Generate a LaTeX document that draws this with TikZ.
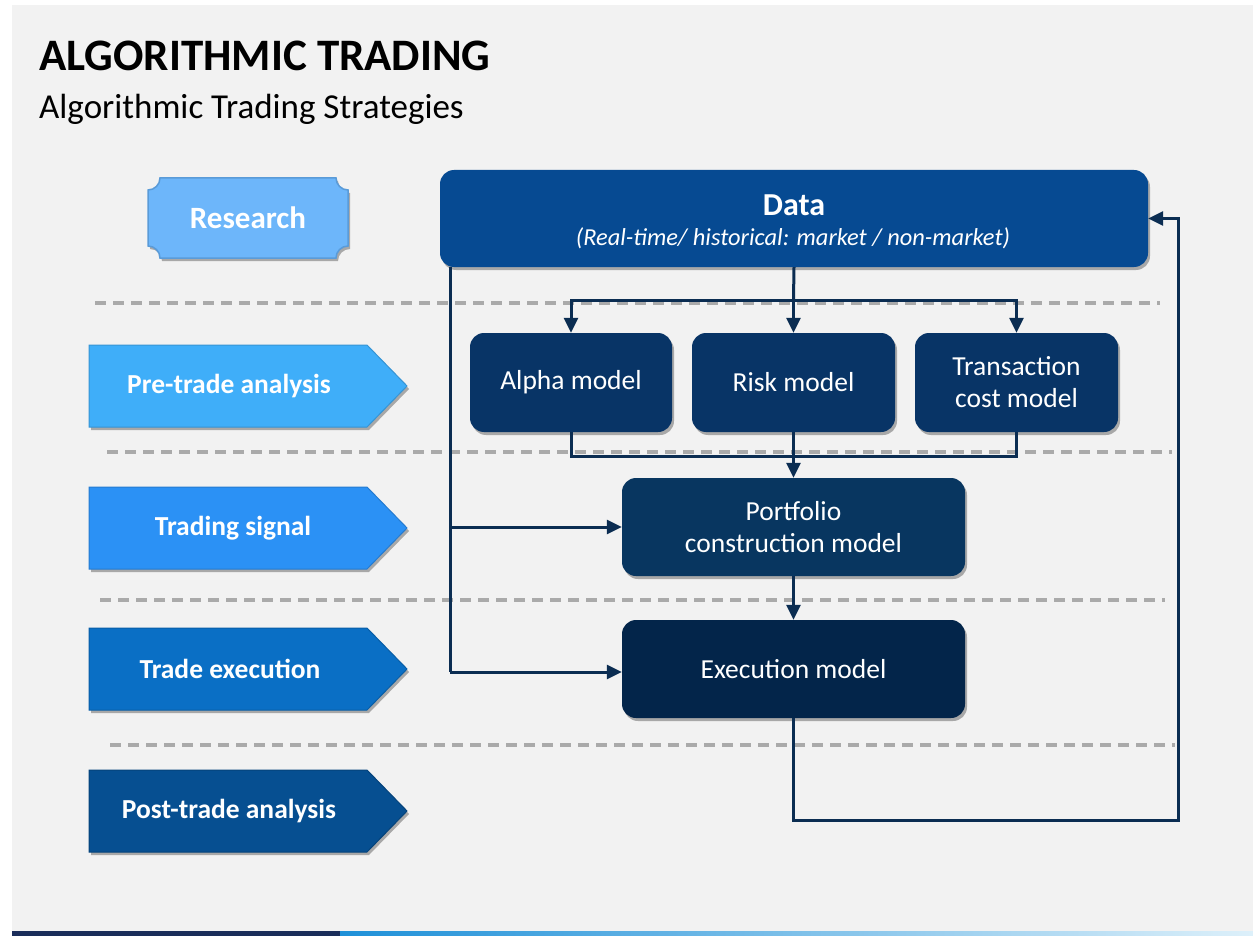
\documentclass[tikz,border=0pt]{standalone}
\usepackage{fontspec}
\setmainfont{Carlito}
\usetikzlibrary{arrows.meta,shadows,calc}

\definecolor{pagebg}{HTML}{F2F2F2}
\definecolor{wire}{HTML}{0B2D52}
\definecolor{dashgray}{HTML}{AAAAAA}
\definecolor{researchfill}{HTML}{6DB6FA}
\definecolor{researchline}{HTML}{5A9BD8}
\definecolor{preFill}{HTML}{3FAEF9}
\definecolor{sigFill}{HTML}{2B91F5}
\definecolor{exeFill}{HTML}{0A6FC5}
\definecolor{postFill}{HTML}{064F91}
\definecolor{dataFill}{HTML}{064A92}
\definecolor{modelFill}{HTML}{083466}
\definecolor{portFill}{HTML}{083660}
\definecolor{execFill}{HTML}{03254A}
\definecolor{barNavy}{HTML}{1A2D5A}
\definecolor{barBlue}{HTML}{1E90D8}
\definecolor{barLight}{HTML}{DDF0FA}

\newcommand{\fsz}[2]{\fontsize{#1}{#2}\selectfont}

\tikzset{
  softshadow/.style={drop shadow={shadow xshift=2pt,shadow yshift=-3pt,opacity=0.3,fill=black}},
  modelbox/.style={rectangle,rounded corners=14pt,text=white,align=center,inner sep=0pt,
    font=\fsz{27.5}{32},softshadow},
  chevlabel/.style={text=white,font=\bfseries\fsz{27.5}{32}},
  conn/.style={draw=wire,line width=3pt},
  arr/.style={-{Triangle[length=15pt,width=14pt]}},
  sepline/.style={draw=dashgray,line width=3.4pt,dash pattern=on 11pt off 7pt},
}

\begin{document}
\begin{tikzpicture}[x=1pt,y=-1pt]
\useasboundingbox (0,0) rectangle (1253,936);
\fill[white] (0,0) rectangle (1253,936);
\fill[pagebg] (12,5) rectangle (1253,932);

% bottom accent bar
\fill[barNavy] (12,931) rectangle (340,936);
\shade[left color=barBlue,right color=barLight] (340,931) rectangle (1253,936);

% heading
\node[anchor=base west,inner sep=0,font=\bfseries\fsz{45}{52}] (title) at (39,71) {ALGORITHMIC TRADING};
\node[anchor=base west,inner sep=0,font=\fsz{35}{40}] (subtitle) at (39,119) {Algorithmic Trading Strategies};

% stage separators
\draw[sepline] (95,303) -- (1160,303);
\draw[sepline] (107,452) -- (1172,452);
\draw[sepline] (100,600) -- (1165,600);
\draw[sepline] (110,745) -- (1175,745);

% Research plaque with concave corners
\path[fill=researchfill,draw=researchline,line width=1.5pt,softshadow]
  (160,178) -- (336,178)
  .. controls (336,184.6) and (341.4,190) .. (348,190) -- (348,246)
  .. controls (341.4,246) and (336,251.4) .. (336,258) -- (160,258)
  .. controls (160,251.4) and (154.6,246) .. (148,246) -- (148,190)
  .. controls (154.6,190) and (160,184.6) .. (160,178) -- cycle;
\node[text=white,font=\bfseries\fsz{31}{36}] (research) at (248,218) {Research};

% stage chevrons
\path[fill=preFill,draw=preFill!85!black,line width=1pt,softshadow]
  (89,345) -- (367,345) -- (407,386) -- (367,427) -- (89,427) -- cycle;
\node[chevlabel] (pretrade) at (229,386) {Pre-trade analysis};

\path[fill=sigFill,draw=sigFill!85!black,line width=1pt,softshadow]
  (89,487) -- (367,487) -- (407,528) -- (367,569) -- (89,569) -- cycle;
\node[chevlabel] (signal) at (233,528) {Trading signal};

\path[fill=exeFill,draw=exeFill!85!black,line width=1pt,softshadow]
  (89,628) -- (367,628) -- (407,669) -- (367,710) -- (89,710) -- cycle;
\node[chevlabel] (tradeexec) at (230,669) {Trade execution};

\path[fill=postFill,draw=postFill!85!black,line width=1pt,softshadow]
  (89,770) -- (367,770) -- (407,811) -- (367,852) -- (89,852) -- cycle;
\node[chevlabel] (posttrade) at (229,811) {Post-trade analysis};

% model boxes
\node[modelbox,fill=dataFill,minimum width=708pt,minimum height=97pt] (data) at (794,218.5) {};
\node[text=white,font=\bfseries\fsz{32}{36}] (datatitle) at (794,205) {Data};
\node[text=white,font=\itshape\fsz{24.4}{28}] (datasub) at (793,238) {(Real-time/ historical: market / non-market)};

\node[modelbox,fill=modelFill,minimum width=202pt,minimum height=99pt] (alpha) at (571,382.5) {Alpha model};
\node[modelbox,fill=modelFill,minimum width=203pt,minimum height=99pt] (risk) at (793.5,382.5) {Risk model};
\node[modelbox,fill=modelFill,minimum width=203pt,minimum height=99pt] (trans) at (1016.5,382.5) {Transaction\\cost model};
\node[modelbox,fill=portFill,minimum width=343pt,minimum height=98pt] (port) at (793.5,527) {Portfolio\\construction model};
\node[modelbox,fill=execFill,minimum width=343pt,minimum height=98pt] (exec) at (793.5,669) {Execution model};

% routing points
\coordinate (split) at (793.5,300);
\coordinate (join) at (793.5,456);
\coordinate (lbus) at (450,672);
\coordinate (fb) at (1178,820);

% connectors
\draw[conn] (data.south) -- (split);
\draw[conn,arr] (split) -| (alpha.north);
\draw[conn,arr] (split) -| (trans.north);
\draw[conn,arr] (split) -- (risk.north);
\draw[conn] (alpha.south) |- (join);
\draw[conn] (trans.south) |- (join);
\draw[conn,arr] (risk.south) -- (port.north);
\draw[conn,arr] (port.south) -- (exec.north);
\draw[conn] (data.south -| lbus) -- (lbus);
\draw[conn,arr] (lbus) -- (exec.west |- lbus);
\draw[conn,arr] (lbus |- port.west) -- (port.west);
\draw[conn,arr] (exec.south) |- (fb) |- (data.east);
\end{tikzpicture}
\end{document}
